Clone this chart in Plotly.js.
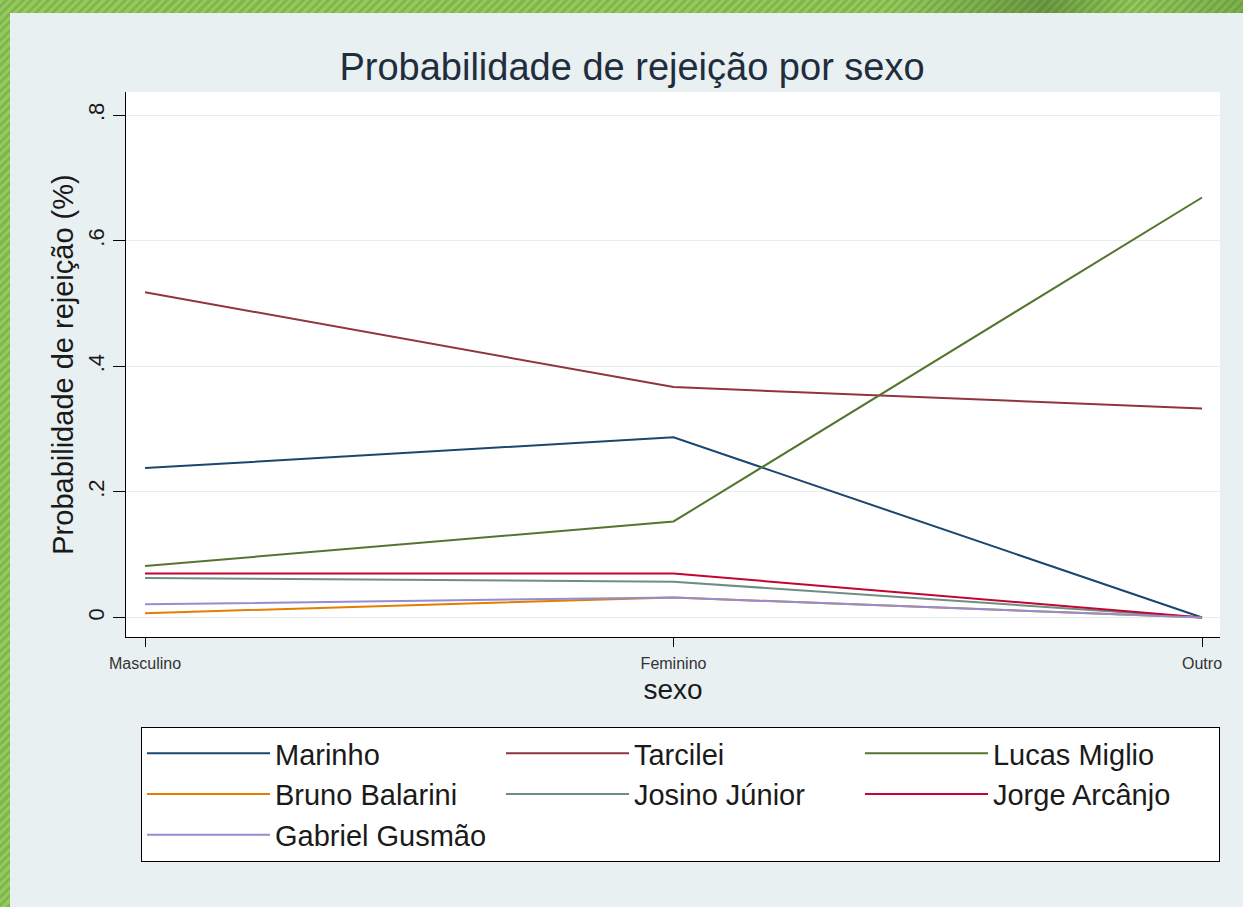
<!DOCTYPE html>
<html>
<head>
<meta charset="utf-8">
<script src="https://cdn.plot.ly/plotly-3.0.1.min.js"></script>
<style>
  html, body { margin: 0; padding: 0; width: 1243px; height: 907px; overflow: hidden; }
  body {
    background: repeating-linear-gradient(135deg, #93c95e 0px, #93c95e 3px, #80b64c 3px, #80b64c 6px);
    position: relative;
  }
  #topfade {
    position: absolute; left: 0; top: 0; width: 1243px; height: 13px;
    background: linear-gradient(90deg, rgba(0,0,0,0) 0%, rgba(0,0,0,0) 72%, rgba(40,70,20,0.35) 84%, rgba(0,0,0,0) 91%, rgba(40,70,20,0.2) 100%);
  }
  #chart { position: absolute; left: 10px; top: 13px; width: 1233px; height: 894px; }
</style>
</head>
<body>
<div id="topfade"></div>
<div id="chart"></div>
<script>
const categories = ["Masculino", "Feminino", "Outro"];
const seriesNames = ["Marinho", "Tarcilei", "Lucas Miglio", "Bruno Balarini", "Josino Júnior", "Jorge Arcânjo", "Gabriel Gusmão"];
const marinho = [0.238, 0.287, 0.0];
const tarcilei = [0.518, 0.367, 0.333];
const lucasMiglio = [0.082, 0.153, 0.669];
const brunoBalarini = [0.007, 0.032, 0.0];
const josinoJunior = [0.063, 0.057, 0.0];
const jorgeArcanjo = [0.070, 0.070, 0.0];
const gabrielGusmao = [0.021, 0.032, 0.0];
const seriesValues = [marinho, tarcilei, lucasMiglio, brunoBalarini, josinoJunior, jorgeArcanjo, gabrielGusmao];
const seriesColors = ["#1a476f", "#90353b", "#55752f", "#e37e00", "#6e8e84", "#c10534", "#938dd2"];
const yTickVals = [0, 0.2, 0.4, 0.6, 0.8];
const yTickText = ["0", ".2", ".4", ".6", ".8"];

const xIdx = categories.map((c, i) => i);
const traces = seriesNames.map((name, k) => ({
  type: "scatter",
  mode: "lines",
  name: name,
  x: xIdx,
  y: seriesValues[k],
  line: { color: seriesColors[k], width: 2 },
  hoverinfo: "x+y+name"
}));

const font = "'Liberation Sans', Arial, sans-serif";
const layout = {
  width: 1233,
  height: 894,
  paper_bgcolor: "#e9f0f2",
  plot_bgcolor: "#ffffff",
  margin: { l: 116, r: 23, t: 79, b: 270 },
  font: { family: font, color: "#1a1a1a" },
  title: {
    text: "Probabilidade de rejeição por sexo",
    font: { family: font, size: 38, color: "#1f2d3d" },
    xref: "container", x: 0.5045, xanchor: "center",
    yref: "container", y: 0.9396, yanchor: "middle"
  },
  xaxis: {
    range: [-0.036, 2.034],
    tickvals: xIdx,
    ticktext: categories,
    tickfont: { family: font, size: 16, color: "#333333" },
    ticks: "outside", ticklen: 9, tickwidth: 1, tickcolor: "#000",
    ticklabelstandoff: 3,
    showline: true, linecolor: "#000", linewidth: 1,
    showgrid: false, zeroline: false,
    title: { text: "sexo", font: { family: font, size: 28, color: "#1a1a1a" }, standoff: 8 },
    automargin: false,
    fixedrange: true
  },
  yaxis: {
    range: [-0.031, 0.837],
    tickvals: yTickVals,
    ticktext: yTickText,
    tickangle: -90,
    tickfont: { family: font, size: 22, color: "#1a1a1a" },
    ticks: "outside", ticklen: 12, tickwidth: 1, tickcolor: "#000",
    showline: true, linecolor: "#000", linewidth: 1,
    showgrid: true, gridcolor: "#e6edef", gridwidth: 1,
    zeroline: false,
    title: { text: "Probabilidade de rejeição (%)", font: { family: font, size: 29, color: "#1a1a1a" }, standoff: 2 },
    automargin: false,
    fixedrange: true
  },
  showlegend: true,
  legend: {
    orientation: "h",
    x: 0.0137, xanchor: "left",
    y: -0.165, yanchor: "top",
    bgcolor: "#ffffff",
    bordercolor: "#000000",
    borderwidth: 1,
    font: { family: font, size: 29, color: "#1a1a1a" },
    itemwidth: 123,
    entrywidth: 221,
    traceorder: "normal"
  }
};

Plotly.newPlot("chart", traces, layout, { displayModeBar: false });
</script>
</body>
</html>
